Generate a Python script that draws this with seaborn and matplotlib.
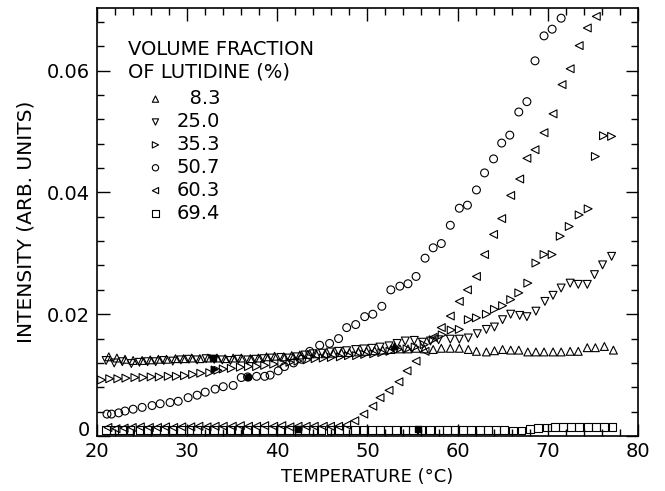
import matplotlib
matplotlib.use("Agg")
import matplotlib.pyplot as plt
import seaborn as sns
from matplotlib.ticker import MultipleLocator, FuncFormatter

sns.set_theme(style="ticks")
plt.rcParams['font.family'] = ['DejaVu Sans']
plt.rcParams.update({'text.color': 'black', 'axes.labelcolor': 'black',
                     'xtick.color': 'black', 'ytick.color': 'black'})

# %% data: temperature (C) and intensity (arb. units) per lutidine volume fraction
# 8.3 %  (open up-triangles)
t_83 = [21.3, 22.2, 23.1, 24.0, 25.0, 25.9, 26.8, 27.7, 28.7, 29.6,
        30.5, 31.4, 32.3, 33.3, 34.2, 35.1, 36.0, 37.0, 37.9, 38.8,
        39.7, 40.7, 41.6, 42.5, 43.4, 44.3, 45.3, 46.2, 47.1, 48.0,
        49.0, 49.9, 50.8, 51.7, 52.6, 53.6, 54.5, 55.4, 56.3, 57.3,
        58.2, 59.2, 60.2, 61.2, 62.1, 63.2, 64.1, 65.0, 65.9, 66.8,
        67.8, 68.7, 69.6, 70.6, 71.5, 72.5, 73.4, 74.4, 75.3, 76.3,
        77.3]
i_83 = [.0130, .0128, .0126, .0124, .0124, .0125, .0126, .0126, .0127, .0127,
        .0128, .0127, .0128, .0128, .0127, .0128, .0128, .0127, .0128, .0130,
        .0131, .0130, .0132, .0133, .0134, .0135, .0135, .0136, .0137, .0137,
        .0138, .0139, .0140, .0141, .0142, .0143, .0143, .0144, .0143, .0142,
        .0144, .0144, .0144, .0142, .0139, .0138, .0140, .0142, .0141, .0141,
        .0138, .0138, .0138, .0138, .0138, .0139, .0139, .0145, .0145, .0147,
        .0141]

# 25.0 %  (open down-triangles)
t_250 = [21.0, 21.9, 22.8, 23.8, 24.7, 25.6, 26.5, 27.4, 28.4, 29.3,
         30.2, 31.1, 32.1, 33.0, 33.9, 34.8, 35.7, 36.7, 37.6, 38.5,
         39.4, 40.4, 41.3, 42.2, 43.1, 44.0, 45.0, 45.9, 46.8, 47.7,
         48.7, 49.6, 50.5, 51.4, 52.4, 53.3, 54.2, 55.2, 56.1, 57.0,
         57.9, 59.2, 60.2, 61.2, 62.2, 63.2, 64.1, 65.0, 65.9, 66.9,
         67.7, 68.7, 69.7, 70.6, 71.5, 72.5, 73.4, 74.4, 75.2, 76.1,
         77.1]
i_250 = [.0124, .0120, .0122, .0119, .0121, .0122, .0122, .0124, .0123, .0125,
         .0126, .0125, .0127, .0126, .0125, .0124, .0126, .0125, .0126, .0127,
         .0128, .0129, .0128, .0130, .0133, .0135, .0136, .0138, .0139, .0140,
         .0142, .0143, .0144, .0146, .0148, .0152, .0156, .0157, .0154, .0156,
         .0158, .0159, .0159, .0161, .0168, .0175, .0179, .0191, .0200, .0198,
         .0196, .0205, .0221, .0231, .0243, .0251, .0249, .0249, .0265, .0281,
         .0295]

# 35.3 %  (open right-triangles)
t_353 = [20.5, 21.4, 22.3, 23.2, 24.2, 25.1, 26.0, 26.9, 27.9, 28.8,
         29.7, 30.6, 31.5, 32.5, 33.4, 34.0, 34.9, 35.9, 36.8, 37.7,
         38.6, 39.6, 40.5, 41.4, 42.3, 43.3, 44.2, 45.1, 46.0, 47.0,
         47.9, 48.8, 49.7, 50.7, 51.6, 52.5, 53.4, 54.4, 55.3, 56.3,
         57.3, 58.3, 59.3, 60.2, 61.2, 62.1, 63.2, 64.1, 65.0, 65.9,
         66.8, 67.8, 68.7, 69.6, 70.5, 71.4, 72.4, 73.5, 74.5, 75.3,
         76.2, 77.1]
i_353 = [.0092, .0094, .0094, .0095, .0096, .0096, .0097, .0097, .0098, .0098,
         .0099, .0101, .0103, .0104, .0108, .0110, .0111, .0113, .0114, .0114,
         .0116, .0118, .0120, .0121, .0123, .0125, .0127, .0128, .0129, .0130,
         .0132, .0132, .0134, .0135, .0137, .0139, .0142, .0143, .0146, .0150,
         .0158, .0166, .0174, .0175, .0191, .0194, .0200, .0208, .0214, .0224,
         .0235, .0251, .0284, .0298, .0298, .0328, .0344, .0363, .0373, .0459,
         .0493, .0492]

# 50.7 %  (open circles)
t_507 = [21.1, 21.6, 22.4, 23.1, 24.0, 25.0, 26.1, 27.0, 28.1, 29.0,
         30.1, 31.1, 32.0, 33.1, 34.0, 35.1, 36.0, 36.7, 37.7, 38.6,
         39.2, 40.1, 40.8, 41.8, 42.7, 43.6, 44.7, 45.8, 46.8, 47.7,
         48.7, 49.7, 50.6, 51.6, 52.6, 53.6, 54.5, 55.4, 56.4, 57.3,
         58.2, 59.2, 60.2, 61.1, 62.1, 63.0, 64.0, 64.9, 65.8, 66.8,
         67.7, 68.6, 69.6, 70.5, 71.5]
i_507 = [.0036, .0036, .0038, .0041, .0044, .0047, .0050, .0053, .0055, .0057,
         .0063, .0067, .0072, .0077, .0081, .0083, .0096, .0097, .0098, .0098,
         .0100, .0107, .0114, .0120, .0126, .0139, .0149, .0152, .0160, .0178,
         .0183, .0196, .0200, .0213, .0240, .0246, .0250, .0262, .0292, .0309,
         .0316, .0346, .0374, .0379, .0404, .0432, .0455, .0481, .0494, .0532,
         .0549, .0616, .0657, .0668, .0686]

# 60.3 %  (open left-triangles)
t_603 = [21.2, 22.1, 23.0, 23.9, 24.8, 25.8, 26.7, 27.6, 28.5, 29.4,
         30.4, 31.3, 32.2, 33.1, 34.0, 35.0, 35.9, 36.8, 37.7, 38.6,
         39.6, 40.5, 41.4, 42.3, 43.2, 44.1, 45.1, 45.9, 46.8, 47.7,
         48.6, 49.6, 50.6, 51.4, 52.4, 53.5, 54.4, 55.4, 56.4, 57.3,
         58.2, 59.2, 60.2, 61.1, 62.1, 63.0, 64.0, 64.9, 65.9, 66.9,
         67.7, 68.6, 69.6, 70.6, 71.6, 72.5, 73.5, 74.4, 75.4]
i_603 = [.0014, .0012, .0013, .0014, .0015, .0014, .0014, .0015, .0014, .0015,
         .0015, .0016, .0015, .0016, .0016, .0016, .0017, .0016, .0016, .0017,
         .0016, .0017, .0015, .0016, .0016, .0016, .0016, .0016, .0016, .0018,
         .0025, .0036, .0049, .0063, .0075, .0089, .0107, .0123, .0139, .0162,
         .0178, .0197, .0221, .0240, .0262, .0298, .0331, .0357, .0395, .0422,
         .0456, .0470, .0498, .0529, .0577, .0603, .0641, .0670, .0689]

# 69.4 %  (open squares)
t_694 = [21.0, 21.9, 22.8, 23.7, 24.7, 25.6, 26.5, 27.4, 28.3, 29.3,
         30.2, 31.1, 32.0, 33.0, 33.9, 34.8, 35.7, 36.6, 37.6, 38.5,
         39.4, 40.3, 41.3, 42.2, 43.1, 44.0, 44.9, 45.9, 46.8, 47.7,
         48.6, 49.6, 50.5, 51.4, 52.3, 53.2, 54.2, 55.1, 56.0, 56.9,
         57.9, 58.8, 59.7, 60.6, 61.5, 62.5, 63.4, 64.3, 65.2, 66.2,
         67.1, 68.0, 68.9, 69.9, 70.8, 71.7, 72.6, 73.5, 74.5, 75.4,
         76.3, 77.2]
i_694 = [.0010, .0010, .0010, .0010, .0010, .0010, .0010, .0010, .0010, .0010,
         .0010, .0010, .0010, .0010, .0010, .0010, .0010, .0010, .0010, .0010,
         .0010, .0010, .0010, .0010, .0010, .0010, .0010, .0010, .0010, .0010,
         .0010, .0010, .0010, .0010, .0010, .0010, .0010, .0010, .0010, .0010,
         .0010, .0010, .0010, .0010, .0010, .0010, .0010, .0010, .0010, .0009,
         .0009, .0011, .0013, .0014, .0015, .0015, .0015, .0015, .0015, .0015,
         .0015, .0015]

# the few filled symbols in the scan
filled_t = [33.0, 36.7, 32.9, 42.3, 55.6, 53.0]
filled_i = [.0110, .0097, .0128, .0011, .0011, .0147]
filled_m = ['>', 'o', 's', 's', 's', '^']

series = [
    (t_83, i_83, '^', '  8.3'),
    (t_250, i_250, 'v', '25.0'),
    (t_353, i_353, '>', '35.3'),
    (t_507, i_507, 'o', '50.7'),
    (t_603, i_603, '<', '60.3'),
    (t_694, i_694, 's', '69.4'),
]

# %% plot
fig, ax = plt.subplots(figsize=(6.65, 4.91), dpi=100)
fig.subplots_adjust(left=0.146, right=0.959, top=0.984, bottom=0.112)

for t, i, m, lab in series:
    sns.scatterplot(x=t, y=i, marker=m, s=32, color='black',
                    facecolor='none', edgecolor='black', linewidth=0.8,
                    label=lab, ax=ax)

for t, i, m in zip(filled_t, filled_i, filled_m):
    ax.scatter([t], [i], marker=m, s=22, color='black', zorder=3)

ax.set_xlim(20, 80)
ax.set_ylim(0, 0.0703)
ax.xaxis.set_major_locator(MultipleLocator(10))
ax.xaxis.set_minor_locator(MultipleLocator(2))
ax.yaxis.set_major_locator(MultipleLocator(0.02))
ax.yaxis.set_minor_locator(MultipleLocator(0.004))
# zero label is drawn separately, sitting slightly above the x axis
ax.yaxis.set_major_formatter(FuncFormatter(lambda v, p: '' if abs(v) < 1e-9 else f'{v:.2f}'))

ax.tick_params(which='both', direction='in', top=True, right=True,
               color='black', width=1.0)
ax.tick_params(which='major', length=9, labelsize=14, pad=5)
ax.tick_params(which='minor', length=5)
ax.tick_params(axis='x', which='major', pad=4)
for sp in ax.spines.values():
    sp.set_linewidth(1.2)
    sp.set_color('black')

ax.text(-0.013, 0.0, '0', transform=ax.get_yaxis_transform(), fontsize=14,
        ha='right', va='baseline')

ax.set_xlabel('TEMPERATURE (°C)', fontsize=13, labelpad=5)
ax.set_ylabel('INTENSITY (ARB. UNITS)', fontsize=14.5, labelpad=8)

ax.text(0.057, 0.876, 'VOLUME FRACTION\nOF LUTIDINE (%)', transform=ax.transAxes,
        fontsize=14, va='center', ha='left', linespacing=1.25)
leg = ax.legend(loc='upper left', bbox_to_anchor=(0.09, 0.81), frameon=False,
                fontsize=14, handlelength=1.0, handletextpad=0.6,
                labelspacing=0.2, borderpad=0, borderaxespad=0, markerscale=0.8)

fig.savefig('out.png', dpi=100)
